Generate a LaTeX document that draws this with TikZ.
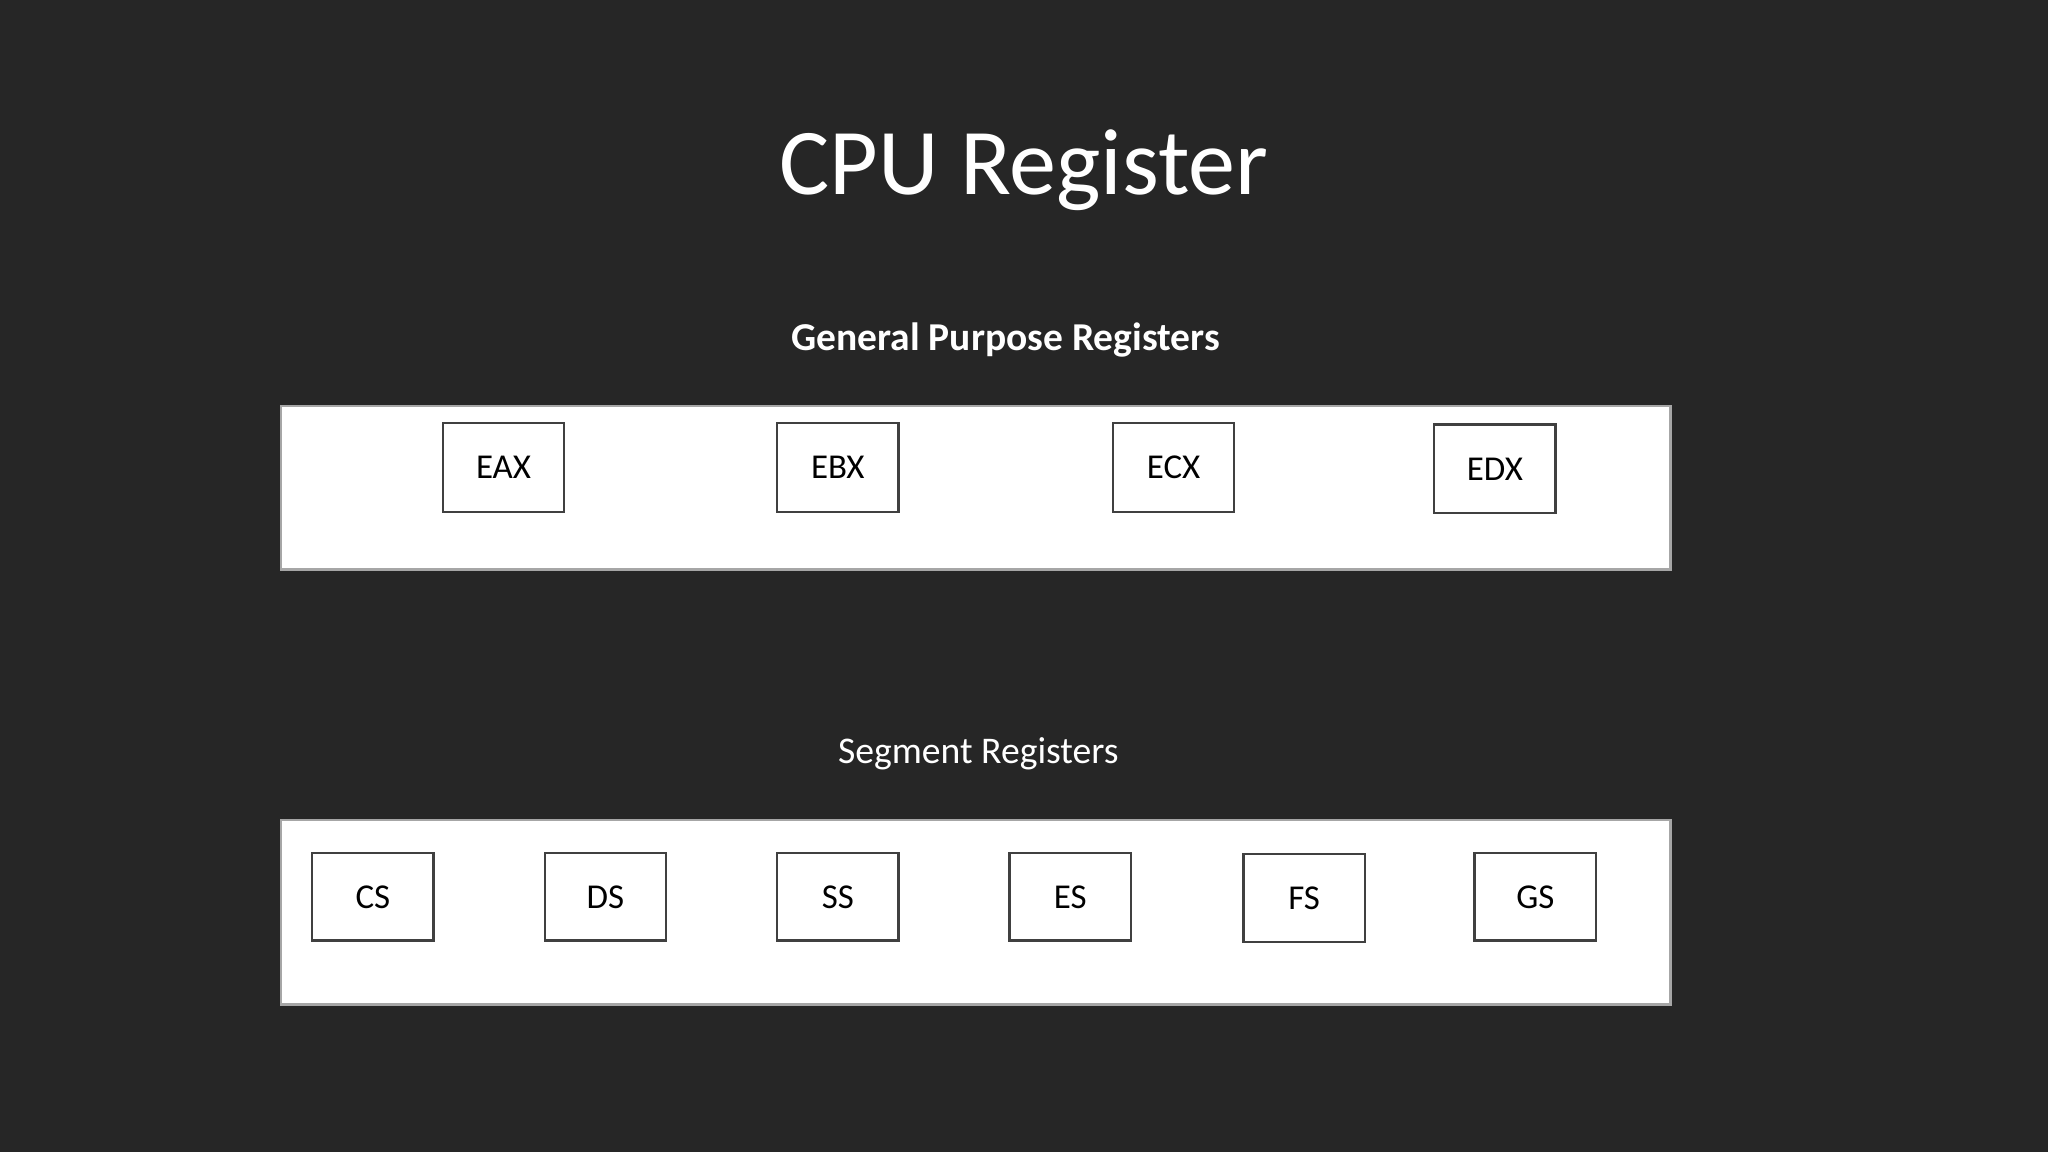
\documentclass[tikz,border=0pt]{standalone}
\usepackage{fontspec}
\setmainfont{Carlito}
\definecolor{bg}{HTML}{262626}
\definecolor{frame}{HTML}{A6A6A6}
\definecolor{regline}{HTML}{404040}
\begin{document}
\begin{tikzpicture}[x=0.01cm,y=-0.01cm,
  panel/.style={draw=frame,fill=white,line width=0.5pt},
  reg/.style={draw=regline,fill=white,line width=0.5pt},
  lbl/.style={font=\fontsize{7.6}{9}\selectfont,text=black}]
\fill[bg] (0,0) rectangle (1568,882);
\useasboundingbox (0,0) rectangle (1568,882);
\node[text=white,font=\fontsize{20.5}{24}\selectfont] (title) at (784,130) {CPU Register};
\node[text=white,font=\fontsize{8.6}{10}\selectfont\bfseries] (gpr) at (770,260) {General Purpose Registers};
\node[text=white,font=\fontsize{8.2}{10}\selectfont] (seg) at (749,577) {Segment Registers};
\draw[panel] (215,311) rectangle (1279,436);
\draw[panel] (215,628) rectangle (1279,769);
\foreach \n/\x/\y in {EAX/339/324,EBX/595/324,ECX/852/324,EDX/1098/325}{
  \draw[reg] (\x,\y) rectangle ++(93,68);
  \node[lbl] (\n) at ([shift={(46.5,34)}]\x,\y) {\n};
}
\foreach \n/\x/\y in {CS/239/653,DS/417/653,SS/595/653,ES/773/653,FS/952/654,GS/1129/653}{
  \draw[reg] (\x,\y) rectangle ++(93,67);
  \node[lbl] (\n) at ([shift={(46.5,34)}]\x,\y) {\n};
}
\end{tikzpicture}
\end{document}
